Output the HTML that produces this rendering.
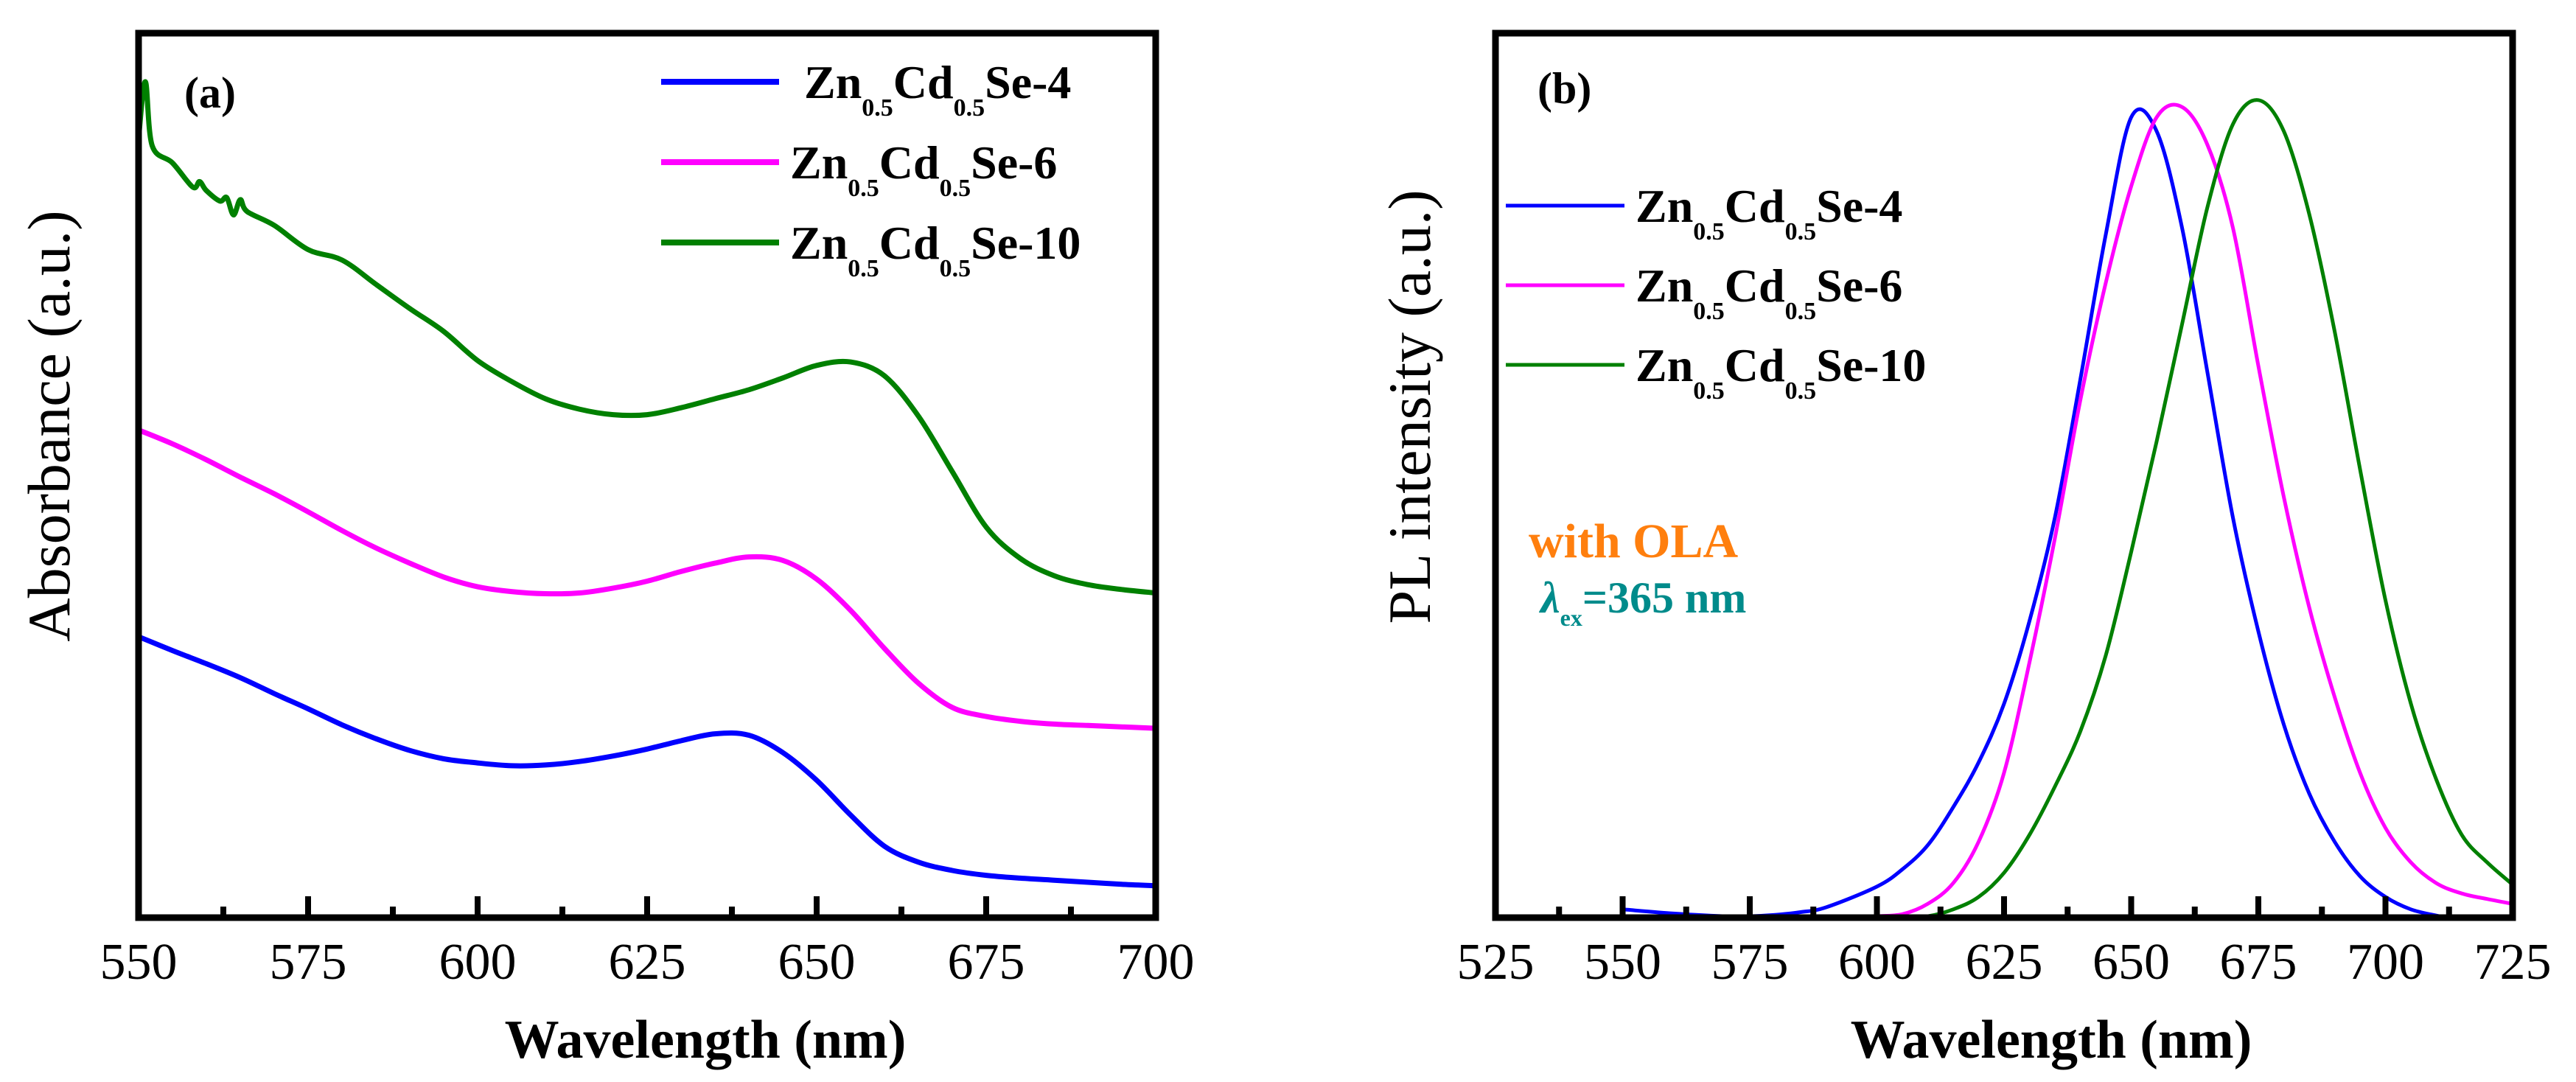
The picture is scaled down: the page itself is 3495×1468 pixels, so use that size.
<!DOCTYPE html>
<html><head><meta charset="utf-8"><style>
html,body{margin:0;padding:0;background:#fff;}
svg{display:block;font-family:"Liberation Serif",serif;}
</style></head><body>
<svg id="fig" width="3495" height="1468" viewBox="0 0 3495 1468" xmlns="http://www.w3.org/2000/svg">
<rect width="3495" height="1468" fill="#fff"/>
<g id="pa"></g>
<g id="pb"></g>
</svg>
<script>
// Panel (a) absorbance data (a.u.)
const absWl = [550,555,560,565,570,575,580,585,590,595,600,605,610,615,620,625,630,635,640,645,650,655,660,665,670,675,680,685,690,695,700];
const absZn4 = [405,385,366,346,323,301,278,258,241,229,223,219,220,225,233,243,255,265,263,238,198,148,103,80,68,61,57,54,51,48,46];
const absZn6 = [703,683,660,635,611,585,558,533,511,491,477,470,467,468,475,485,499,511,520,515,488,443,388,338,303,290,283,279,277,275,273];
const absWl10 = [550,551,552,555,558,559,560,562,563,564,565,566,570,575,580,585,590,595,600,605,610,615,620,625,630,635,640,645,650,655,660,665,670,675,680,685,690,695,700];
const absZn10 = [1123,1205,1113,1088,1053,1061,1048,1033,1038,1013,1035,1018,998,963,948,913,878,845,803,773,748,733,725,725,735,748,761,778,796,801,781,723,643,563,518,493,480,473,468];
const absTicks = [550,575,600,625,650,675,700];
// Panel (b) PL data (a.u.)
const plWl4 = [550,560,570,575,580,585,590,600,605,610,615,620,625,630,635,640,645,650,655,660,665,670,675,680,685,690,695,700,705,710,712];
const plZn4 = [12,6,2,2,4,8,15,45,70,105,160,225,310,430,580,780,990,1160,1140,1000,790,580,415,280,180,110,60,30,12,3,0];
const plWl6 = [598,600,605,610,615,620,625,630,635,640,645,650,655,660,665,670,675,680,685,690,695,700,705,710,715,720,725];
const plZn6 = [0,2,5,20,50,110,210,370,550,750,920,1060,1160,1175,1120,1000,800,610,450,320,210,130,80,50,35,27,20];
const plWl10 = [605,610,615,620,625,630,635,640,645,650,655,660,665,670,675,680,685,690,695,700,705,710,715,720,725];
const plZn10 = [0,2,12,30,65,120,190,270,380,530,690,860,1030,1150,1185,1140,1020,850,650,460,310,200,120,80,48];
const plTicks = [525,550,575,600,625,650,675,700,725];

const NS="http://www.w3.org/2000/svg";
function mk(tag,parent,attrs){const e=document.createElementNS(NS,tag);for(const k in attrs)e.setAttribute(k,attrs[k]);parent.appendChild(e);return e;}
function smooth(pts){let d="M"+pts[0][0].toFixed(1)+","+pts[0][1].toFixed(1);
 for(let i=0;i<pts.length-1;i++){const p0=pts[Math.max(0,i-1)],p1=pts[i],p2=pts[i+1],p3=pts[Math.min(pts.length-1,i+2)];
  const c1=[p1[0]+(p2[0]-p0[0])/6,p1[1]+(p2[1]-p0[1])/6],c2=[p2[0]-(p3[0]-p1[0])/6,p2[1]-(p3[1]-p1[1])/6];
  d+="C"+c1[0].toFixed(1)+","+c1[1].toFixed(1)+" "+c2[0].toFixed(1)+","+c2[1].toFixed(1)+" "+p2[0].toFixed(1)+","+p2[1].toFixed(1);}
 return d;}

function panel(g,cfg){
 const {L,R,T,B,x0,x1,ymax}=cfg;
 const sx=v=>L+(v-x0)/(x1-x0)*(R-L);
 const sy=v=>B-v/ymax*(B-T);
 cfg.series.forEach(s=>{
  const p=mk('path',g,{d:smooth(s.wl.map((w,i)=>[sx(w),sy(s.v[i])])),fill:'none',stroke:s.color,'stroke-width':cfg.lw,'stroke-linejoin':'round'});
  
  
 });
 cfg.ticks.forEach((t,i)=>{
  const x=sx(t);
  const tk=mk('line',g,{x1:x,x2:x,y1:B,y2:B-29,stroke:'#000','stroke-width':8});
  
  
  const lb=mk('text',g,{x:x,y:1328,'font-size':70,'text-anchor':'middle',fill:'#000'});
  lb.textContent=t;
  
  
  if(i<cfg.ticks.length-1){const xm=sx(t+12.5);
   const mt=mk('line',g,{x1:xm,x2:xm,y1:B,y2:B-15,stroke:'#000','stroke-width':8});
   
   }
 });
 const fr=mk('rect',g,{x:L,y:T,width:R-L,height:B-T,fill:'none',stroke:'#000','stroke-width':9});
 
 
}

const pa=document.getElementById('pa'), pb=document.getElementById('pb');
panel(pa,{L:188,R:1568,T:45,B:1245,x0:550,x1:700,ymax:1275,lw:7,ticks:absTicks,series:[
 {name:'abs-zn4-line',wl:absWl,v:absZn4,color:'#0000ff'},
 {name:'abs-zn6-line',wl:absWl,v:absZn6,color:'#ff00ff'},
 {name:'abs-zn10-line',wl:absWl10,v:absZn10,color:'#008000'}]});
panel(pb,{L:2029,R:3409,T:45,B:1245,x0:525,x1:725,ymax:1282,lw:5,ticks:plTicks,series:[
 {name:'pl-zn4-line',wl:plWl4,v:plZn4,color:'#0000ff'},
 {name:'pl-zn6-line',wl:plWl6,v:plZn6,color:'#ff00ff'},
 {name:'pl-zn10-line',wl:plWl10,v:plZn10,color:'#008000'}]});

function legend(g,x1,x2,tx,y,color,lw,suffix,nm){
 const ln=mk('line',g,{x1:x1,x2:x2,y1:y,y2:y,stroke:color,'stroke-width':lw});
 
 
 const t=mk('text',g,{x:tx,y:y+22,'font-size':64,'font-weight':'bold',fill:'#000'});
 
 
 t.innerHTML='Zn<tspan font-size="34" dy="24">0.5</tspan><tspan dy="-24">Cd</tspan><tspan font-size="34" dy="24">0.5</tspan><tspan dy="-24">Se-'+suffix+'</tspan>';
}
legend(pa,897,1057,1091,111,'#0000ff',8,'4','legend-a-zn4');
legend(pa,897,1057,1072,220,'#ff00ff',8,'6','legend-a-zn6');
legend(pa,897,1057,1072,329,'#008000',8,'10','legend-a-zn10');
legend(pb,2043,2204,2219,279,'#0000ff',5,'4','legend-b-zn4');
legend(pb,2043,2204,2219,387,'#ff00ff',5,'6','legend-b-zn6');
legend(pb,2043,2204,2219,495,'#008000',5,'10','legend-b-zn10');
</script>
<svg style="position:absolute;left:0;top:0" width="3495" height="1468" viewBox="0 0 3495 1468" xmlns="http://www.w3.org/2000/svg" font-family="Liberation Serif, serif">
<text x="250" y="146" font-size="60" font-weight="bold">(a)</text>
<text x="2086" y="140" font-size="60" font-weight="bold">(b)</text>
<text x="957" y="1435" font-size="74" font-weight="bold" text-anchor="middle">Wavelength (nm)</text>
<text x="2783" y="1435" font-size="74" font-weight="bold" text-anchor="middle">Wavelength (nm)</text>
<text transform="translate(94,578) rotate(-90)" font-size="82" text-anchor="middle">Absorbance (a.u.)</text>
<text transform="translate(1940,552) rotate(-90)" font-size="82" text-anchor="middle">PL intensity (a.u.)</text>
<text x="2074" y="756" font-size="66" font-weight="bold" fill="#ff7f0e">with OLA</text>
<text x="2090" y="831" font-size="60" font-weight="bold" fill="#008b8b"><tspan font-style="italic">λ</tspan><tspan font-size="32" dy="18">ex</tspan><tspan dy="-18">=365 nm</tspan></text>
</svg>
</body></html>
